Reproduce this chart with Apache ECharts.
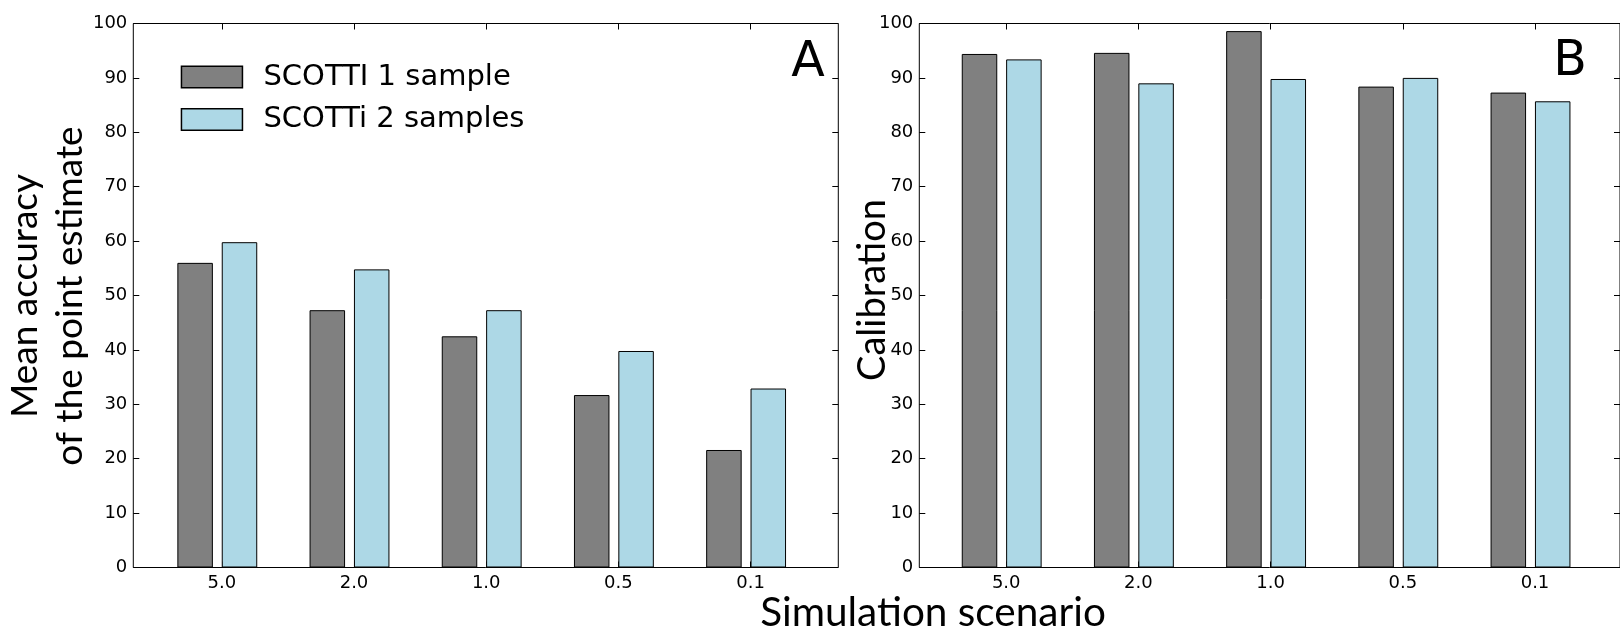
<!DOCTYPE html>
<html>
<head>
<meta charset="utf-8">
<title>SCOTTI accuracy and calibration</title>
<script src="https://cdn.jsdelivr.net/npm/echarts@6/dist/echarts.min.js"></script>
<style>
html, body {
  margin: 0;
  padding: 0;
  background-color: #fff;
}
#chart {
  width: 1620px;
  height: 634px;
}
</style>
</head>
<body>
<div id="chart"></div>
<script>
// values
const scenarios = ['5.0', '2.0', '1.0', '0.5', '0.1'];
const accuracyOne = [56.0, 47.3, 42.5, 31.7, 21.6];
const accuracyTwo = [59.8, 54.8, 47.3, 39.8, 32.9];
const calibrationOne = [94.4, 94.6, 98.6, 88.4, 87.3];
const calibrationTwo = [93.4, 89.0, 89.8, 90.0, 85.7];
const nameOne = 'SCOTTI 1 sample';
const nameTwo = 'SCOTTi 2 samples';

const tickFont = 'DejaVu Sans';
const labelFont = 'Lato';
const grayColor = '#808080';
const blueColor = '#add8e6';

// panel geometry: frame box, first tick position, tick spacing
const plotTop = 23.5;
const plotHeight = 544;
const step = 132.2;
const panels = [
  { frameLeft: 133.3, frameWidth: 705, firstTick: 221.8 },
  { frameLeft: 919.3, frameWidth: 703, firstTick: 1006.2 }
];

let grids = [];
let xAxes = [];
let yAxes = [];
let series = [];

panels.forEach((p, i) => {
  const labelLeft = p.firstTick - step / 2;
  const bandWidth = step * scenarios.length;
  const g = grids.length;
  // frame grid (border + y ticks), label grid (x ticks/labels), bar grid (bars shifted left)
  grids.push({ left: p.frameLeft, top: plotTop, width: p.frameWidth, height: plotHeight,
    show: true, borderColor: '#000', borderWidth: 1, backgroundColor: 'transparent' });
  grids.push({ left: labelLeft, top: plotTop, width: bandWidth, height: plotHeight });
  grids.push({ left: labelLeft - 4.5, top: plotTop, width: bandWidth, height: plotHeight });

  // frame grid axes
  xAxes.push({ type: 'category', gridIndex: g, data: scenarios, show: false });
  const yBase = {
    type: 'value', gridIndex: g, min: 0, max: 100, interval: 10,
    axisLine: { show: false },
    splitLine: { show: false },
    axisTick: { show: true, inside: true, length: 6, lineStyle: { color: '#000', width: 1 } }
  };
  yAxes.push(Object.assign({}, yBase, {
    position: 'left',
    axisLabel: { show: true, margin: 6, fontSize: 18, fontFamily: tickFont, color: '#000' }
  }));
  yAxes.push(Object.assign({}, yBase, { position: 'right', axisLabel: { show: false } }));

  // label grid axes
  xAxes.push({
    type: 'category', gridIndex: g + 1, data: scenarios, position: 'bottom',
    axisLine: { show: false },
    axisTick: { show: true, inside: true, length: 6, alignWithLabel: true, lineStyle: { color: '#000' } },
    axisLabel: { margin: 7, fontSize: 18, fontFamily: tickFont, color: '#000' }
  });
  xAxes.push({
    type: 'category', gridIndex: g + 1, data: scenarios, position: 'top',
    axisLine: { show: false },
    axisTick: { show: true, inside: true, length: 6, alignWithLabel: true, lineStyle: { color: '#000' } },
    axisLabel: { show: false }
  });
  yAxes.push({ type: 'value', gridIndex: g + 1, min: 0, max: 100, show: false });

  // bar grid axes
  const barX = xAxes.length;
  xAxes.push({ type: 'category', gridIndex: g + 2, data: scenarios, show: false });
  const barY = yAxes.length;
  yAxes.push({ type: 'value', gridIndex: g + 2, min: 0, max: 100, show: false });

  const one = i === 0 ? accuracyOne : calibrationOne;
  const two = i === 0 ? accuracyTwo : calibrationTwo;
  series.push({
    name: nameOne, type: 'bar', xAxisIndex: barX, yAxisIndex: barY,
    data: one, barWidth: 35.5, barGap: '25%',
    itemStyle: { color: grayColor, borderColor: '#000', borderWidth: 1 },
    emphasis: { disabled: true }
  });
  series.push({
    name: nameTwo, type: 'bar', xAxisIndex: barX, yAxisIndex: barY,
    data: two, barWidth: 35.5, barGap: '25%',
    itemStyle: { color: blueColor, borderColor: '#000', borderWidth: 1 },
    emphasis: { disabled: true }
  });
});

const option = {
  animation: false,
  backgroundColor: '#fff',
  grid: grids,
  xAxis: xAxes,
  yAxis: yAxes,
  series: series,
  legend: {
    data: [nameOne, nameTwo],
    orient: 'vertical',
    left: 180.7,
    top: 62,
    padding: 0,
    icon: 'rect',
    itemWidth: 61,
    itemHeight: 21.6,
    itemGap: 12.5,
    selectedMode: false,
    itemStyle: { borderColor: '#000', borderWidth: 1.5 },
    textStyle: { fontSize: 29, fontFamily: tickFont, color: '#000', lineHeight: 30, padding: [0, 0, 0, 16] }
  },
  graphic: [
    {
      type: 'text', x: 47.5, y: 296, rotation: Math.PI / 2,
      style: { text: 'Mean accuracy\nof the point estimate', fontSize: 37, lineHeight: 45,
        fontFamily: labelFont, fill: '#000', align: 'center', verticalAlign: 'middle' }
    },
    {
      type: 'text', x: 873, y: 290, rotation: Math.PI / 2,
      style: { text: 'Calibration', fontSize: 38, fontFamily: labelFont, fill: '#000',
        align: 'center', verticalAlign: 'middle' }
    },
    {
      type: 'text', x: 933, y: 613,
      style: { text: 'Simulation scenario', fontSize: 40.5, fontFamily: labelFont, fill: '#000',
        align: 'center', verticalAlign: 'middle' }
    },
    {
      type: 'text', x: 808, y: 63.5,
      style: { text: 'A', fontSize: 49, fontFamily: tickFont, fill: '#000',
        align: 'center', verticalAlign: 'middle' }
    },
    {
      type: 'text', x: 1570, y: 62,
      style: { text: 'B', fontSize: 49, fontFamily: tickFont, fill: '#000',
        align: 'center', verticalAlign: 'middle' }
    }
  ]
};

let myChart = echarts.init(document.getElementById('chart'));
myChart.setOption(option);
</script>
</body>
</html>
